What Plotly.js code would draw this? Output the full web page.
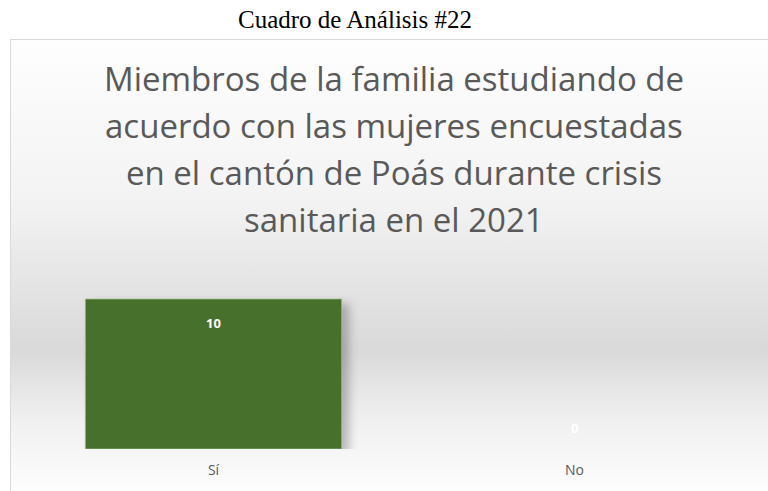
<!DOCTYPE html>
<html>
<head>
<meta charset="utf-8">
<script src="https://cdn.plot.ly/plotly-3.0.1.min.js"></script>
<style>
  html, body { margin:0; padding:0; background:#ffffff; width:768px; height:491px; overflow:hidden; }
  #frame { position:absolute; left:10px; top:39px; width:770px; height:470px;
    border-top:1px solid #d9d9d9; border-left:1px solid #d9d9d9;
    background: linear-gradient(to bottom, #fefefe 0px, #f3f3f3 160px, #d9d9d9 310px, #f0f0f0 380px, #fdfdfd 450px); }
  #cap { position:absolute; left:0; top:5px; width:710px; text-align:center; line-height:30px;
    font-family:"Liberation Serif","Times New Roman",serif; font-size:25px; color:#000; }
  #chart { position:absolute; left:0; top:0; width:768px; height:491px; }
  .trace.bars .point path { filter: drop-shadow(7px 5px 5px rgba(0,0,0,0.25)); }
</style>
</head>
<body>
<div id="frame"></div>
<div id="cap">Cuadro de Análisis #22</div>
<div id="chart"></div>
<script>
const categories = ["Sí", "No"];
const values = [10, 0];
const titleLines = [
  "Miembros de la familia estudiando de",
  "acuerdo con las mujeres encuestadas",
  "en el cantón de Poás durante crisis",
  "sanitaria en el 2021"
];

const annotations = [];
titleLines.forEach((t, i) => {
  annotations.push({
    text: t, xref: "paper", yref: "paper", x: 0.5, y: 1, xanchor: "center", yanchor: "middle",
    yshift: 269 - 78 - i * 47, showarrow: false,
    font: { family: "Open Sans, sans-serif", size: 33, color: "#595959" }
  });
});
values.forEach((v, i) => {
  annotations.push({
    text: "<b>" + v + "</b>", x: categories[i], y: v, xref: "x", yref: "y",
    yanchor: "middle", yshift: v > 0 ? -24 : 21, showarrow: false,
    font: { family: "Open Sans, sans-serif", size: 13, color: "#ffffff" }
  });
});

const trace = {
  type: "bar", x: categories, y: values,
  marker: { color: "#46702c",
    line: { color: "rgba(160,190,140,0.7)", width: values.map(v => v > 0 ? 1 : 0) } },
  hoverinfo: "skip"
};

const layout = {
  width: 768, height: 491,
  margin: { l: 33, r: 13, t: 269, b: 42, pad: 0 },
  paper_bgcolor: "rgba(0,0,0,0)", plot_bgcolor: "rgba(0,0,0,0)",
  bargap: 0.29,
  showlegend: false,
  xaxis: { type: "category", showgrid: false, zeroline: false, showline: false, ticks: "",
    ticklabelstandoff: 11,
    tickfont: { family: "Open Sans, sans-serif", size: 14, color: "#595959" } },
  yaxis: { range: [0, 12], visible: false, showgrid: false, zeroline: false },
  annotations: annotations
};

Plotly.newPlot("chart", [trace], layout, { staticPlot: true, displayModeBar: false });
</script>
</body>
</html>
